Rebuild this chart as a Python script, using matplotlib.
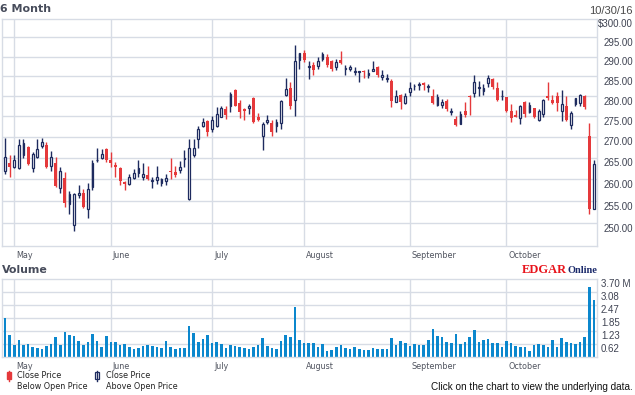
import numpy as np
import pandas as pd
import matplotlib
matplotlib.use("Agg")
import matplotlib.pyplot as plt
import matplotlib.transforms as mtransforms
from matplotlib.patches import Rectangle
from matplotlib.lines import Line2D

# 6 month window, trading days 4/28/16 .. 10/28/16
holidays = ["2016-05-30", "2016-07-04", "2016-09-05"]
days = pd.bdate_range("2016-04-28", "2016-10-28")
days = days[~days.isin(pd.to_datetime(holidays))]

opens = [261.8, 263.8, 262.9, 262.6, 265.7, 267.5, 262.6, 265.2, 267.8, 268.1,
         263.1, 263.8, 258.0, 260.3, 254.4, 249.6, 256.4, 256.9, 253.1, 258.1,
         264.4, 264.9, 267.2, 264.5, 263.3, 262.6, 259.3, 258.8, 260.3, 261.5,
         260.5, 260.9, 259.6, 259.9, 259.2, 259.7, 262.0, 261.6, 262.2, 264.8,
         255.4, 265.7, 269.4, 272.6, 273.8, 271.8, 272.7, 274.9, 276.7, 277.6,
         281.6, 278.3, 276.9, 277.1, 279.5, 274.7, 270.3, 273.7, 273.3, 272.7,
         273.4, 280.3, 282.0, 278.9, 289.0, 290.8, 287.3, 287.8, 287.5, 289.4,
         289.9, 288.9, 287.2, 289.1, 286.9, 286.7, 286.0, 286.0, 286.4, 285.2,
         286.4, 287.4, 284.8, 284.3, 283.7, 278.6, 280.2, 278.3, 280.9, 282.4,
         282.7, 283.3, 282.3, 280.1, 277.8, 277.7, 278.7, 276.0, 274.4, 273.2,
         276.4, 280.1, 280.8, 282.0, 281.3, 283.3, 284.3, 282.0, 279.9, 279.7,
         276.4, 275.4, 274.6, 278.5, 276.1, 277.0, 274.0, 275.6, 280.1, 279.1,
         279.9, 276.2, 277.4, 272.8, 277.9, 278.3, 280.1, 270.2, 253.3]
highs = [269.8, 265.6, 265.6, 269.6, 269.6, 267.7, 266.5, 269.6, 269.8, 268.8,
         266.6, 265.3, 262.9, 261.6, 257.3, 256.8, 258.7, 257.8, 259.1, 264.5,
         267.4, 267.0, 267.4, 266.5, 264.1, 262.8, 259.6, 261.3, 262.3, 264.5,
         263.7, 263.1, 260.5, 263.0, 260.2, 261.3, 265.0, 263.0, 264.2, 266.8,
         269.4, 269.4, 272.7, 274.6, 274.0, 275.0, 277.2, 277.4, 277.4, 280.9,
         281.7, 278.9, 277.0, 278.0, 279.8, 275.8, 273.6, 275.2, 274.0, 274.3,
         278.9, 284.5, 283.4, 293.0, 290.9, 291.7, 288.8, 288.6, 290.0, 291.3,
         290.7, 289.1, 289.4, 291.5, 287.9, 287.8, 287.2, 286.4, 286.5, 286.9,
         288.9, 287.6, 286.6, 285.5, 284.3, 281.5, 280.6, 280.7, 283.4, 283.0,
         283.4, 283.4, 283.0, 281.8, 280.6, 279.3, 279.3, 277.0, 275.0, 276.2,
         278.4, 280.2, 285.3, 283.7, 283.1, 285.3, 284.6, 283.6, 281.6, 279.8,
         278.1, 276.6, 277.8, 278.7, 278.5, 277.1, 276.8, 279.2, 283.4, 280.3,
         280.9, 281.6, 279.9, 276.4, 279.5, 280.6, 280.2, 273.4, 264.5]
lows = [261.2, 260.5, 262.7, 262.4, 264.9, 263.4, 261.7, 264.9, 267.3, 262.7,
        262.0, 258.1, 256.8, 253.7, 252.0, 248.4, 255.8, 253.5, 251.2, 257.6,
        264.0, 264.8, 264.1, 262.8, 260.5, 258.6, 257.5, 258.7, 260.1, 260.6,
        259.9, 259.9, 257.9, 259.0, 258.4, 258.6, 260.1, 260.5, 261.5, 262.8,
        255.3, 265.3, 267.3, 272.4, 270.1, 271.1, 272.5, 274.7, 274.4, 276.1,
        277.5, 274.6, 274.0, 275.6, 273.4, 273.9, 266.8, 273.2, 270.2, 271.1,
        271.8, 280.1, 276.7, 275.0, 286.9, 288.6, 284.3, 285.4, 286.9, 288.9,
        287.4, 286.4, 286.5, 288.2, 285.2, 286.4, 285.4, 283.4, 284.5, 284.5,
        286.2, 284.9, 284.0, 283.4, 277.3, 278.4, 276.8, 278.0, 280.1, 281.6,
        281.4, 281.4, 281.0, 278.1, 277.4, 277.0, 276.2, 275.2, 272.6, 273.0,
        274.8, 275.2, 279.8, 280.0, 280.2, 282.3, 281.8, 278.8, 279.1, 276.0,
        273.6, 274.7, 273.2, 274.8, 275.7, 274.5, 273.9, 274.8, 279.1, 277.9,
        276.4, 273.8, 273.9, 271.8, 277.4, 277.4, 276.8, 252.0, 253.2]
closes = [265.2, 262.9, 264.5, 268.1, 268.5, 263.6, 266.0, 267.2, 268.8, 262.9,
          265.1, 258.5, 261.8, 254.6, 256.6, 256.6, 256.9, 253.7, 257.7, 263.7,
          264.6, 266.0, 264.6, 263.8, 262.9, 259.7, 259.0, 260.5, 261.5, 262.6,
          261.3, 260.1, 259.9, 260.6, 260.1, 260.3, 261.7, 261.1, 262.9, 264.9,
          267.4, 267.4, 272.0, 273.6, 271.1, 274.0, 275.6, 277.1, 275.4, 280.5,
          277.6, 276.0, 276.3, 277.5, 273.7, 274.1, 273.0, 274.1, 271.2, 273.7,
          278.8, 281.7, 277.4, 288.8, 290.8, 289.1, 287.5, 286.6, 288.9, 290.7,
          287.8, 286.9, 288.6, 288.3, 287.1, 287.3, 286.2, 286.2, 286.0, 285.9,
          286.7, 285.2, 285.2, 284.5, 278.8, 280.1, 278.4, 280.0, 282.0, 282.6,
          283.0, 282.8, 282.5, 278.3, 279.7, 278.4, 276.8, 276.4, 272.8, 275.6,
          275.2, 279.7, 283.5, 282.3, 282.0, 284.5, 282.2, 278.9, 280.1, 276.2,
          274.5, 274.9, 277.6, 275.6, 277.8, 274.9, 276.4, 278.9, 279.4, 278.3,
          278.3, 278.1, 274.0, 275.7, 279.4, 280.3, 277.2, 253.3, 263.6]
volume = [1.87, 1.06, 0.59, 0.82, 0.59, 0.63, 0.47, 0.44, 0.40, 0.54,
          0.63, 0.96, 0.59, 1.20, 1.06, 1.01, 0.77, 0.59, 0.73, 1.11,
          0.77, 0.49, 1.01, 0.73, 0.73, 0.59, 0.63, 0.51, 0.40, 0.44,
          0.54, 0.59, 0.54, 0.49, 0.46, 0.77, 0.49, 0.40, 0.44, 0.44,
          1.49, 1.15, 0.73, 0.87, 1.06, 0.68, 0.73, 0.63, 0.44, 0.59,
          0.54, 0.51, 0.44, 0.41, 0.49, 0.59, 0.92, 0.54, 0.44, 0.40,
          0.77, 1.06, 0.96, 2.39, 0.82, 0.68, 0.68, 0.68, 0.51, 0.63,
          0.32, 0.36, 0.49, 0.59, 0.44, 0.40, 0.49, 0.40, 0.36, 0.36,
          0.44, 0.41, 0.41, 0.41, 0.93, 0.60, 0.79, 0.68, 0.55, 0.63,
          0.60, 0.60, 0.84, 1.34, 1.01, 0.98, 0.73, 0.68, 1.11, 0.63,
          0.73, 0.96, 1.30, 0.73, 0.82, 0.87, 0.68, 0.68, 0.49, 0.77,
          0.68, 0.54, 0.49, 0.49, 0.32, 0.59, 0.63, 0.59, 0.49, 0.82,
          0.49, 0.92, 0.73, 0.68, 0.65, 0.73, 0.96, 3.34, 2.72]  # millions

price_ticks = [250, 255, 260, 265, 270, 275, 280, 285, 290, 295, 300]
price_labels = ["250.00", "255.00", "260.00", "265.00", "270.00", "275.00",
                "280.00", "285.00", "290.00", "295.00", "$300.00"]
vol_ticks = [0.6167, 1.2333, 1.85, 2.4667, 3.0833, 3.70]
vol_labels = ["0.62", "1.23", "1.85", "2.47", "3.08", "3.70 M"]
month_names = ["May", "June", "July", "August", "September", "October"]

opens, highs, lows, closes = map(np.array, (opens, highs, lows, closes))
x = np.arange(len(days))
month_idx = [int(np.argmax(days.month == m)) for m in range(5, 11)]

red = "#e5393b"
navy = "#1e2b5f"
grid = "#d7dce5"
txt = "#3f4352"

W, H = 635, 395
fig = plt.figure(figsize=(W / 100, H / 100), dpi=100)


def box(l, t, r, b):
    return [l / W, 1 - b / H, (r - l) / W, (b - t) / H]


ax = fig.add_axes(box(1.5, 18.5, 597.3, 246))
axv = fig.add_axes(box(1.5, 279.3, 597.3, 357.3))

for a in (ax, axv):
    a.set_xlim(-0.78, 128.74)
    for s in a.spines.values():
        s.set_color(grid)
        s.set_linewidth(1)
    for i in month_idx:
        a.axvline(i, color=grid, lw=1, zorder=0)

# price panel (log scale)
ax.set_yscale("log")
ax.set_ylim(245, 300)
ax.set_xticks([])
ax.set_yticks([])
ax.set_yticks([], minor=True)
for p in price_ticks[:-1]:
    ax.axhline(p, color=grid, lw=1, zorder=0)

up = closes >= opens
bottom = np.minimum(opens, closes)
height = np.maximum(np.abs(closes - opens), 0.15)
ax.vlines(x, lows, highs, colors=[navy if u else red for u in up], lw=1, zorder=2)
ax.bar(x[up], height[up], bottom=bottom[up], width=0.42, facecolor="white",
       edgecolor=navy, linewidth=0.9, zorder=3)
ax.bar(x[~up], height[~up], bottom=bottom[~up], width=0.62, color=red,
       linewidth=0, zorder=3)

# volume panel
axv.set_ylim(0, 3.70)
axv.set_xticks([])
axv.set_yticks([])
for v in vol_ticks[:-1]:
    axv.axhline(v, color=grid, lw=1, zorder=0)
axv.bar(x, volume, width=0.6, color="#0b87cd", zorder=2)

# axis labels on the right
lab = dict(fontsize=7, color=txt, family="Liberation Sans", va="center")
tr = mtransforms.blended_transform_factory(ax.transAxes, ax.transData)
tr = tr + mtransforms.ScaledTranslation(0.357, -0.055, fig.dpi_scale_trans)
for p, s in zip(price_ticks, price_labels):
    ax.text(1, p, s, transform=tr, ha="right", **lab)
trv = mtransforms.blended_transform_factory(axv.transAxes, axv.transData)
trv = trv + mtransforms.ScaledTranslation(0.037, -0.05, fig.dpi_scale_trans)
for v, s in zip(vol_ticks, vol_labels):
    axv.text(1, v, s, transform=trv, ha="left", **lab)

# month names under both panels
for a, dy in ((ax, -0.10), (axv, -0.094)):
    trm = mtransforms.blended_transform_factory(a.transData, a.transAxes)
    trm = trm + mtransforms.ScaledTranslation(0.02, dy, fig.dpi_scale_trans)
    for i, m in zip(month_idx, month_names):
        a.text(i, 0, m, transform=trm, ha="left", va="center", fontsize=5.8,
               color="#50545f", family="DejaVu Sans")

# titles and notes
fig.text(0.4 / W, 1 - 8.5 / H, "6 Month", fontsize=7.9, fontweight="bold",
         color="#474c5b", va="center", family="DejaVu Sans")
fig.text(1.7 / W, 1 - 270.3 / H, "Volume", fontsize=7.9, fontweight="bold",
         color="#474c5b", va="center", family="DejaVu Sans")
fig.text(633 / W, 1 - 11.5 / H, "10/30/16", fontsize=8, color="#4a4a4a",
         ha="right", va="center", family="Liberation Sans")
fig.text(522 / W, 1 - 272.7 / H, "EDGAR", fontsize=9, fontweight="bold",
         color="#e8141c", va="baseline", family="Liberation Serif")
fig.text(567 / W, 1 - 272.7 / H, "Online", fontsize=7.5, fontweight="bold",
         color="#1b2a6b", va="baseline", family="Liberation Serif")
fig.text(633 / W, 1 - 387.5 / H, "Click on the chart to view the underlying data.",
         fontsize=7.2, color="#111111", ha="right", va="center",
         family="Liberation Sans")

# legend
leg = dict(fontsize=5.8, color="#222222", va="center", family="DejaVu Sans")
fig.add_artist(Line2D([8.8 / W, 8.8 / W], [1 - 370.5 / H, 1 - 381 / H],
                      color=red, lw=1, transform=fig.transFigure))
fig.add_artist(Rectangle((6.8 / W, 1 - 379 / H), 4 / W, 7 / H, color=red,
                         transform=fig.transFigure))
fig.add_artist(Line2D([97.2 / W, 97.2 / W], [1 - 370.5 / H, 1 - 381 / H],
                      color=navy, lw=1, transform=fig.transFigure))
fig.add_artist(Rectangle((95.3 / W, 1 - 379 / H), 3.8 / W, 7 / H,
                         facecolor="white", edgecolor=navy, lw=0.9,
                         transform=fig.transFigure))
fig.text(16.7 / W, 1 - 375 / H, "Close Price", **leg)
fig.text(16.7 / W, 1 - 386.7 / H, "Below Open Price", **leg)
fig.text(105.7 / W, 1 - 375 / H, "Close Price", **leg)
fig.text(105.7 / W, 1 - 386.7 / H, "Above Open Price", **leg)

fig.savefig("out.png", dpi=100)
